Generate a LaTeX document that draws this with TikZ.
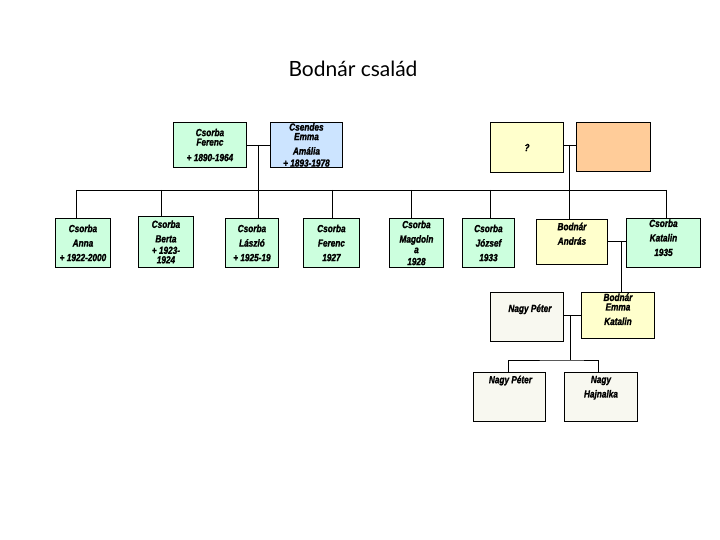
\documentclass[tikz,border=0pt]{standalone}
\usepackage{fontspec}
\newfontfamily\boxfont[FakeStretch=0.8,FakeBold=1.4]{Liberation Sans}
\newfontfamily\titlefont{Lato}
\definecolor{cgreen}{RGB}{204,255,222}
\definecolor{cblue}{RGB}{204,228,255}
\definecolor{cyellow}{RGB}{255,255,204}
\definecolor{corange}{RGB}{255,204,153}
\definecolor{cbeige}{RGB}{248,248,240}
\begin{document}
\begin{tikzpicture}[x=1pt,y=-1pt,
  pbox/.style={draw=black,line width=0.9pt,anchor=north west,inner sep=0pt,align=center,
    font=\boxfont\bfseries\itshape\fontsize{10.3}{14.5}\selectfont},
  conn/.style={draw=black,line width=0.9pt}]
\path[fill=white] (0,0) rectangle (720,540);
\useasboundingbox (0,0) rectangle (720,540);
\node[font=\titlefont\fontsize{21}{24}\selectfont] (title) at (353,69) {Bodnár család};
% generation 1
\node[pbox,fill=cgreen,minimum width=73pt,minimum height=45pt] (ferenc) at (173,122) {Csorba\\[-5pt]Ferenc\\[1pt]+ 1890-1964};
\node[pbox,fill=cblue,minimum width=72pt,minimum height=45pt] (emma) at (270,122) {Csendes\\[-5pt]Emma\\[0pt]Amália\\[-2.5pt]+ 1893-1978};
\node[pbox,fill=cyellow,minimum width=73pt,minimum height=50pt] (q) at (490,122) {?};
\node[pbox,fill=corange,minimum width=74pt,minimum height=49pt] (orange) at (576,122) {};
% generation 2
\node[pbox,fill=cgreen,minimum width=55pt,minimum height=49pt] (anna) at (55,218) {Csorba\\Anna\\+ 1922-2000};
\node[pbox,fill=cgreen,minimum width=55pt,minimum height=51pt] (berta) at (138,216) {Csorba\\Berta\\[-3pt]+ 1923-\\[-5pt]1924};
\node[pbox,fill=cgreen,minimum width=53pt,minimum height=49pt] (laszlo) at (225,218) {Csorba\\László\\+ 1925-19};
\node[pbox,fill=cgreen,minimum width=56pt,minimum height=49pt] (ferenc2) at (303,218) {Csorba\\Ferenc\\1927};
\node[pbox,fill=cgreen,minimum width=54pt,minimum height=49pt] (magdolna) at (389,218) {Csorba\\Magdoln\\[-4pt]a\\[-2.5pt]1928};
\node[pbox,fill=cgreen,minimum width=52pt,minimum height=49pt] (jozsef) at (462,218) {Csorba\\József\\1933};
\node[pbox,fill=cyellow,minimum width=71pt,minimum height=45pt] (andras) at (536,219) {Bodnár\\András\\[2pt]\mbox{}};
\node[pbox,fill=cgreen,minimum width=74pt,minimum height=49pt] (katalin) at (626,218) {Csorba\\Katalin\\1935\\[-4pt]\mbox{}};
% generation 3
\node[pbox,fill=cbeige,minimum width=73pt,minimum height=49pt] (peter) at (490,292) {\hspace*{6pt}Nagy Péter\\[3pt]\mbox{}};
\node[pbox,fill=cyellow,minimum width=73pt,minimum height=46pt] (emmak) at (581,292) {Bodnár\\[-5pt]Emma\\[0pt]Katalin\\[-2pt]\mbox{}};
% generation 4
\node[pbox,fill=cbeige,minimum width=72pt,minimum height=49pt] (peter2) at (473,372) {\hspace*{2pt}Nagy Péter\\\mbox{}\\[6pt]\mbox{}};
\node[pbox,fill=cbeige,minimum width=73pt,minimum height=49pt] (hajnalka) at (564,372) {Nagy\\Hajnalka\\[6pt]\mbox{}};
% junction coordinates
\coordinate (m1) at (258,145);
\coordinate (b1) at (258,190);
\coordinate (m2) at (569,145);
\coordinate (m3) at (621,241);
\coordinate (m4) at (570,315);
\coordinate (b4) at (570,360);
\coordinate (bl) at (76,190);
\coordinate (br) at (666,190);
% connectors generation 1
\draw[conn] (ferenc.east |- m1) -- (emma.west |- m1);
\draw[conn] (m1) -- (b1);
\draw[conn] (q.east |- m2) -- (orange.west |- m2);
\draw[conn] (m2) -- (andras.north -| m2);
\draw[conn] (bl) -- (br);
\draw[conn] (bl) -- (anna.north -| bl);
\draw[conn] (161,190) -- (berta.north -| 161,0);
\draw[conn] (b1) -- (laszlo.north -| b1);
\draw[conn] (332,190) -- (ferenc2.north -| 332,0);
\draw[conn] (411,190) -- (magdolna.north -| 411,0);
\draw[conn] (490,190) -- (jozsef.north -| 490,0);
\draw[conn] (br) -- (katalin.north -| br);
% generation 2 couple
\draw[conn] (andras.east |- m3) -- (katalin.west |- m3);
\draw[conn] (m3) -- (emmak.north -| m3);
% generation 3 couple
\draw[conn] (peter.east |- m4) -- (emmak.west |- m4);
\draw[conn] (m4) -- (b4);
\draw[conn] (peter2.north -| 508,0) |- (b4) -| (hajnalka.north -| 598,0);
\end{tikzpicture}
\end{document}
